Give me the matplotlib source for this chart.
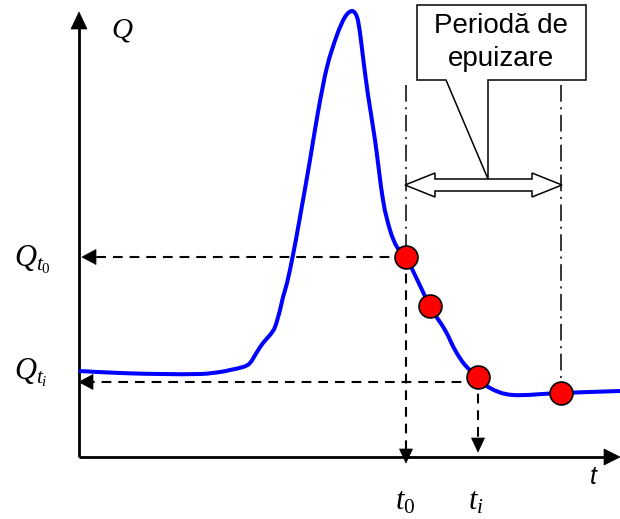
import matplotlib.pyplot as plt
from matplotlib.patches import Polygon, PathPatch
from matplotlib.path import Path

plt.rcParams['mathtext.fontset'] = 'custom'
plt.rcParams['mathtext.it'] = 'Liberation Serif:italic'
plt.rcParams['mathtext.rm'] = 'Liberation Serif'
plt.rcParams['lines.scale_dashes'] = False

# hydrograph (time, discharge), arbitrary units
t_curve = [0, 41, 81, 121, 141, 151, 164, 171, 178, 184, 191, 196, 201, 204, 208,
           214, 221, 231, 239, 248, 258, 266, 273, 278, 281, 284, 289, 296,
           304, 311, 318, 327, 351, 366, 376, 386, 399, 411, 434, 482, 541]
q_curve = [86, 84, 83, 83, 85, 87, 90, 94, 105, 114, 122, 130, 147, 160, 174,
           202, 240, 297, 345, 390, 422, 440, 446, 440, 424, 400, 362, 317,
           257, 227, 210, 200, 151, 127, 107, 92, 80, 69, 62, 64, 66]

# recession samples
t_pts = [327, 351, 399, 482]
q_pts = [200, 151, 80, 64]

t0, ti, t_end = t_pts[0], t_pts[2], t_pts[3]
q0, qi = q_pts[0], q_pts[2]
t_max, q_max = 541, 445


def smooth_path(xs, ys):
    # Catmull-Rom through the points, written as cubic Bezier segments
    pts = list(zip(xs, ys))
    verts = [pts[0]]
    codes = [Path.MOVETO]
    n = len(pts)
    for i in range(n - 1):
        p0 = pts[i - 1] if i > 0 else pts[i]
        p1 = pts[i]
        p2 = pts[i + 1]
        p3 = pts[i + 2] if i + 2 < n else pts[i + 1]
        c1 = (p1[0] + (p2[0] - p0[0]) / 6, p1[1] + (p2[1] - p0[1]) / 6)
        c2 = (p2[0] - (p3[0] - p1[0]) / 6, p2[1] - (p3[1] - p1[1]) / 6)
        verts += [c1, c2, p2]
        codes += [Path.CURVE4] * 3
    return Path(verts, codes)


def head(ax, tip, direction, length, width):
    # filled triangular arrow head, sizes in data units (1 unit = 1 px)
    x, y = tip
    dx, dy = direction
    px, py = -dy, dx
    pts = [(x, y),
           (x - dx * length + px * width / 2, y - dy * length + py * width / 2),
           (x - dx * length - px * width / 2, y - dy * length - py * width / 2)]
    ax.add_patch(Polygon(pts, closed=True, facecolor='black', edgecolor='black',
                         linewidth=0.5, zorder=4))


fig = plt.figure(figsize=(6.2, 5.19), dpi=100)
ax = fig.add_axes([0, 0, 1, 1])
ax.set_xlim(-79, 541)
ax.set_ylim(-62, 457)
ax.axis('off')

# axes with arrows
ax.plot([0, 0], [0, q_max - 14], color='black', lw=2, solid_capstyle='butt', zorder=3)
head(ax, (0, q_max), (0, 1), 17, 16)
ax.plot([0, t_max - 14], [0, 0], color='black', lw=2, solid_capstyle='butt', zorder=3)
head(ax, (t_max, 0), (1, 0), 16, 16)

# dash-dot limits of the recession period
ax.plot([t0, t0], [372, q0], color='black', lw=1.1, ls=(0, (12, 4, 1.5, 4)), zorder=2)
ax.plot([t_end, t_end], [372, q_pts[3]], color='black', lw=1.1,
        ls=(0, (12, 4, 1.5, 4)), zorder=2)

# dashed projections on the axes
dash = (0, (7, 5))
ax.plot([t0, 17], [q0, q0], color='black', lw=1.5, ls=dash, zorder=2)
head(ax, (3, q0), (-1, 0), 14, 15)
ax.plot([ti, 14], [qi - 5, qi - 5], color='black', lw=1.5, ls=dash, zorder=2)
head(ax, (0, qi - 5), (-1, 0), 14, 15)
ax.plot([t0, t0], [q0, 8], color='black', lw=1.5, ls=dash, zorder=2)
head(ax, (t0, -6), (0, -1), 14, 13)
ax.plot([ti, ti], [qi, 19], color='black', lw=1.5, ls=dash, zorder=2)
head(ax, (ti, 5), (0, -1), 14, 13)

# hydrograph and sample points
ax.add_patch(PathPatch(smooth_path(t_curve, q_curve), facecolor='none',
                       edgecolor='#0000ff', lw=2.9, joinstyle='round', zorder=3))
ax.plot(t_pts, q_pts, 'o', ms=16.5, mfc='#ff0000', mec='black', mew=1.2, zorder=5)

# hollow double arrow spanning the recession period
ya, sh, hh, hl = 272, 6, 12, 30
arrow = [(t0 - 1, ya), (t0 - 1 + hl, ya + hh), (t0 - 1 + hl, ya + sh),
         (t_end + 1 - hl, ya + sh), (t_end + 1 - hl, ya + hh), (t_end + 1, ya),
         (t_end + 1 - hl, ya - hh), (t_end + 1 - hl, ya - sh),
         (t0 - 1 + hl, ya - sh), (t0 - 1 + hl, ya - hh)]
ax.add_patch(Polygon(arrow, closed=True, facecolor='white', edgecolor='black',
                     linewidth=1.1, zorder=4))

# callout box
callout = [(338, 452), (507, 452), (507, 377), (409, 377), (409, 278),
           (367, 377), (338, 377)]
ax.add_patch(Polygon(callout, closed=True, facecolor='white', edgecolor='black',
                     linewidth=1.1, zorder=4))
ax.text(422, 424, 'Periodă de', ha='center', va='baseline', fontsize=20,
        family='Liberation Sans', zorder=6)
ax.text(422, 391, 'epuizare', ha='center', va='baseline', fontsize=20,
        family='Liberation Sans', zorder=6)

# labels
ax.text(43, 427, '$Q$', ha='center', va='center', fontsize=21)
ax.text(-65, 197, '$Q_{t_0}$', ha='left', va='center', fontsize=22)
ax.text(-65, 84, '$Q_{t_i}$', ha='left', va='center', fontsize=22)
ax.text(514, -20, 't', ha='center', va='center', fontsize=18,
        family='Liberation Sans', style='italic')
ax.text(316, -52, '$t_0$', ha='left', va='baseline', fontsize=22)
ax.text(389, -52, '$t_i$', ha='left', va='baseline', fontsize=22)

fig.savefig('out.png', dpi=100)
